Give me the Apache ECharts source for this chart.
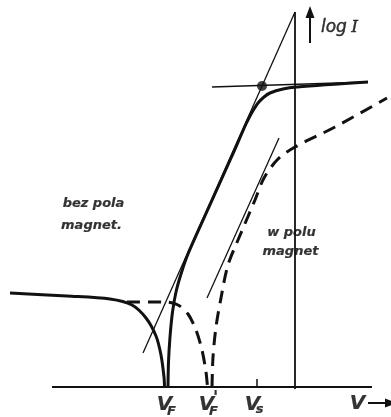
<!DOCTYPE html>
<html>
<head>
<meta charset="utf-8">
<script src="https://cdn.jsdelivr.net/npm/echarts@6/dist/echarts.min.js"></script>
<style>
  html, body { margin: 0; padding: 0; background: #fff; }
  #chart { width: 391px; height: 417px; }
</style>
</head>
<body>
<div id="chart"></div>
<script>
// Probe characteristic log I versus V, schematic units (V to the right, log I up).

// without magnetic field: ion branch (left of V_F) and electron branch (right of V_F)
const ionBranch = [[10,94],[67,91],[110,88],[132,82],[146,69],[156,51],[161,32],[164,10],[164.5,0]];
const electronBranch = [[168,0],[168.5,25],[170,50],[172.5,75],[176,95],[181,113],[188,133],[209,180],[231.5,230],[246,263],[250,271],[254,278],[258,284],[264,290],[270,294],[283,298],[297,300],[368,305]];

// in the magnetic field (dashed)
const ionBranchB = [[127,85],[165,85],[178,82],[188,73],[196,57],[202,37],[206,15],[207.5,0]];
const electronBranchB = [[212,0],[213,30],[216,60],[221,89],[228,122],[241,154],[255,187],[264,209],[278,228],[295,240],[335,260],[387,289]];

// construction lines
const steepTangent = [[143,34],[295,375]];
const saturationLine = [[212,300],[368,305]];
const tangentB = [[207,89],[279,249]];
const kneePoint = [[262,301]];

// axes
const vAxisLine = [[52,0],[372,0]];
const logIAxisLine = [[295,-2],[295,375]];
const vsTick = [[257,0],[257,8]];

const chart = echarts.init(document.getElementById('chart'), null, { renderer: 'canvas' });

const INK = '#000';
const FONT = '"DejaVu Sans", sans-serif';

function line(data, width, dashed) {
  return {
    type: 'line', data, symbol: 'none',
    smooth: data.length > 2 ? 0.3 : false,
    clip: false, silent: true,
    lineStyle: { color: '#111', width, type: dashed ? [13, 8] : 'solid', cap: 'butt', join: 'round' }
  };
}

function label(x, y, text, style) {
  return {
    type: 'scatter', data: [[x, y]], symbolSize: 1, silent: true, clip: false,
    itemStyle: { color: 'rgba(0,0,0,0)' },
    label: Object.assign({
      show: true, position: [0, 0], align: 'center', verticalAlign: 'middle',
      formatter: text, color: INK, textBorderColor: INK, textBorderWidth: 0.2,
      fontFamily: FONT, fontStyle: 'italic', fontWeight: 'bold', fontSize: 13
    }, style || {})
  };
}

const series = [
  line(vAxisLine, 2),
  line(logIAxisLine, 1.8),
  line(vsTick, 1.5),
  line(steepTangent, 1.3),
  line(saturationLine, 1.3),
  line(tangentB, 1.3),
  line(ionBranch, 3),
  line(electronBranch, 3),
  line(ionBranchB, 3, true),
  line(electronBranchB, 3, true),
  {
    type: 'scatter', data: kneePoint, symbol: 'circle', symbolSize: 10, silent: true,
    itemStyle: { color: '#111' }
  },
  // axis arrows
  {
    type: 'line', data: [], silent: true,
    markLine: {
      silent: true, symbol: ['none', 'triangle'], symbolSize: [9, 12], label: { show: false },
      lineStyle: { color: '#111', width: 2, type: 'solid' },
      data: [
        [{ coord: [310, 344] }, { coord: [310, 375] }],
        [{ coord: [368, -16] }, { coord: [391, -16] }]
      ]
    }
  },
  label(94, 183, 'bez pola'),
  label(92, 161, 'magnet.'),
  label(292, 154, 'w polu'),
  label(291, 135, 'magnet'),
  label(340, 359, '{a|log} {b|I}', {
    textBorderWidth: 0,
    rich: {
      a: { fontFamily: FONT, fontStyle: 'italic', fontWeight: 'normal', fontSize: 17, color: INK, textBorderColor: INK, textBorderWidth: 0.4 },
      b: { fontFamily: '"DejaVu Serif", serif', fontStyle: 'italic', fontWeight: 'normal', fontSize: 17, color: INK, textBorderColor: INK, textBorderWidth: 0.4 }
    }
  }),
  label(165, -18, 'V', { fontSize: 20 }),
  label(172, -25, 'F', { fontSize: 13 }),
  label(207, -18, 'V', { fontSize: 20 }),
  label(214, -25, 'F', { fontSize: 13 }),
  label(216, -12, "'", { fontSize: 17 }),
  label(253, -18, 'V', { fontSize: 20 }),
  label(260, -23, 's', { fontSize: 13 }),
  label(358, -17, 'V', { fontSize: 20 })
];

chart.setOption({
  animation: false,
  backgroundColor: '#fff',
  grid: { left: 0, right: 0, top: 0, bottom: 0 },
  xAxis: { type: 'value', min: 0, max: 391, show: false },
  yAxis: { type: 'value', min: -30, max: 387, show: false },
  series
});
</script>
</body>
</html>
